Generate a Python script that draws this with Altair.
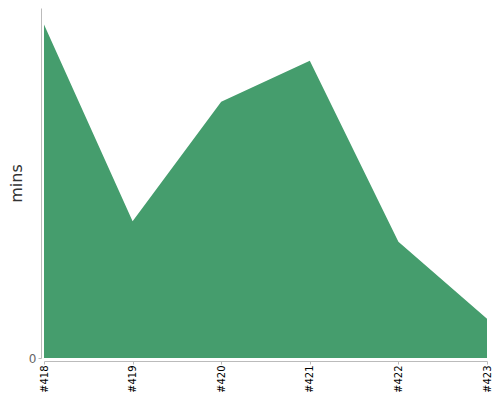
import altair as alt
import pandas as pd

builds = ["#418", "#419", "#420", "#421", "#422", "#423"]
mins = [95.3, 39.1, 73.2, 84.9, 33.2, 11.2]

df = pd.DataFrame({"build": builds, "mins": mins})

chart = alt.Chart(df).mark_area(color="#459d6d", opacity=1, interpolate="linear").encode(
    x=alt.X("build:O", sort=builds,
            scale=alt.Scale(type="point", padding=0),
            axis=alt.Axis(title=None, labelAngle=270, labelFontSize=10, labelColor="#000",
                          labelFont="DejaVu Sans", labelPadding=1,
                          domainColor="#bbb", tickColor="#bbb", tickSize=3, offset=3,
                          grid=False)),
    y=alt.Y("mins:Q", scale=alt.Scale(domain=[0, 100], nice=False),
            axis=alt.Axis(title="mins", values=[0], titleFontSize=16, titleFontWeight="normal",
                          titleColor="#333", titleFont="DejaVu Sans", titlePadding=4,
                          labelFontSize=12, labelColor="#666", labelFont="DejaVu Sans",
                          labelPadding=2,
                          domainColor="#bbb", tickColor="#bbb", tickSize=3, offset=3,
                          grid=False)),
).properties(
    width=443, height=350,
    autosize=alt.AutoSizeParams(type="none"),
    padding={"left": 36, "top": 0, "right": 5, "bottom": 34},
).configure_view(stroke=None)

chart.save("out.html", embed_options={"renderer": "svg", "actions": False})
